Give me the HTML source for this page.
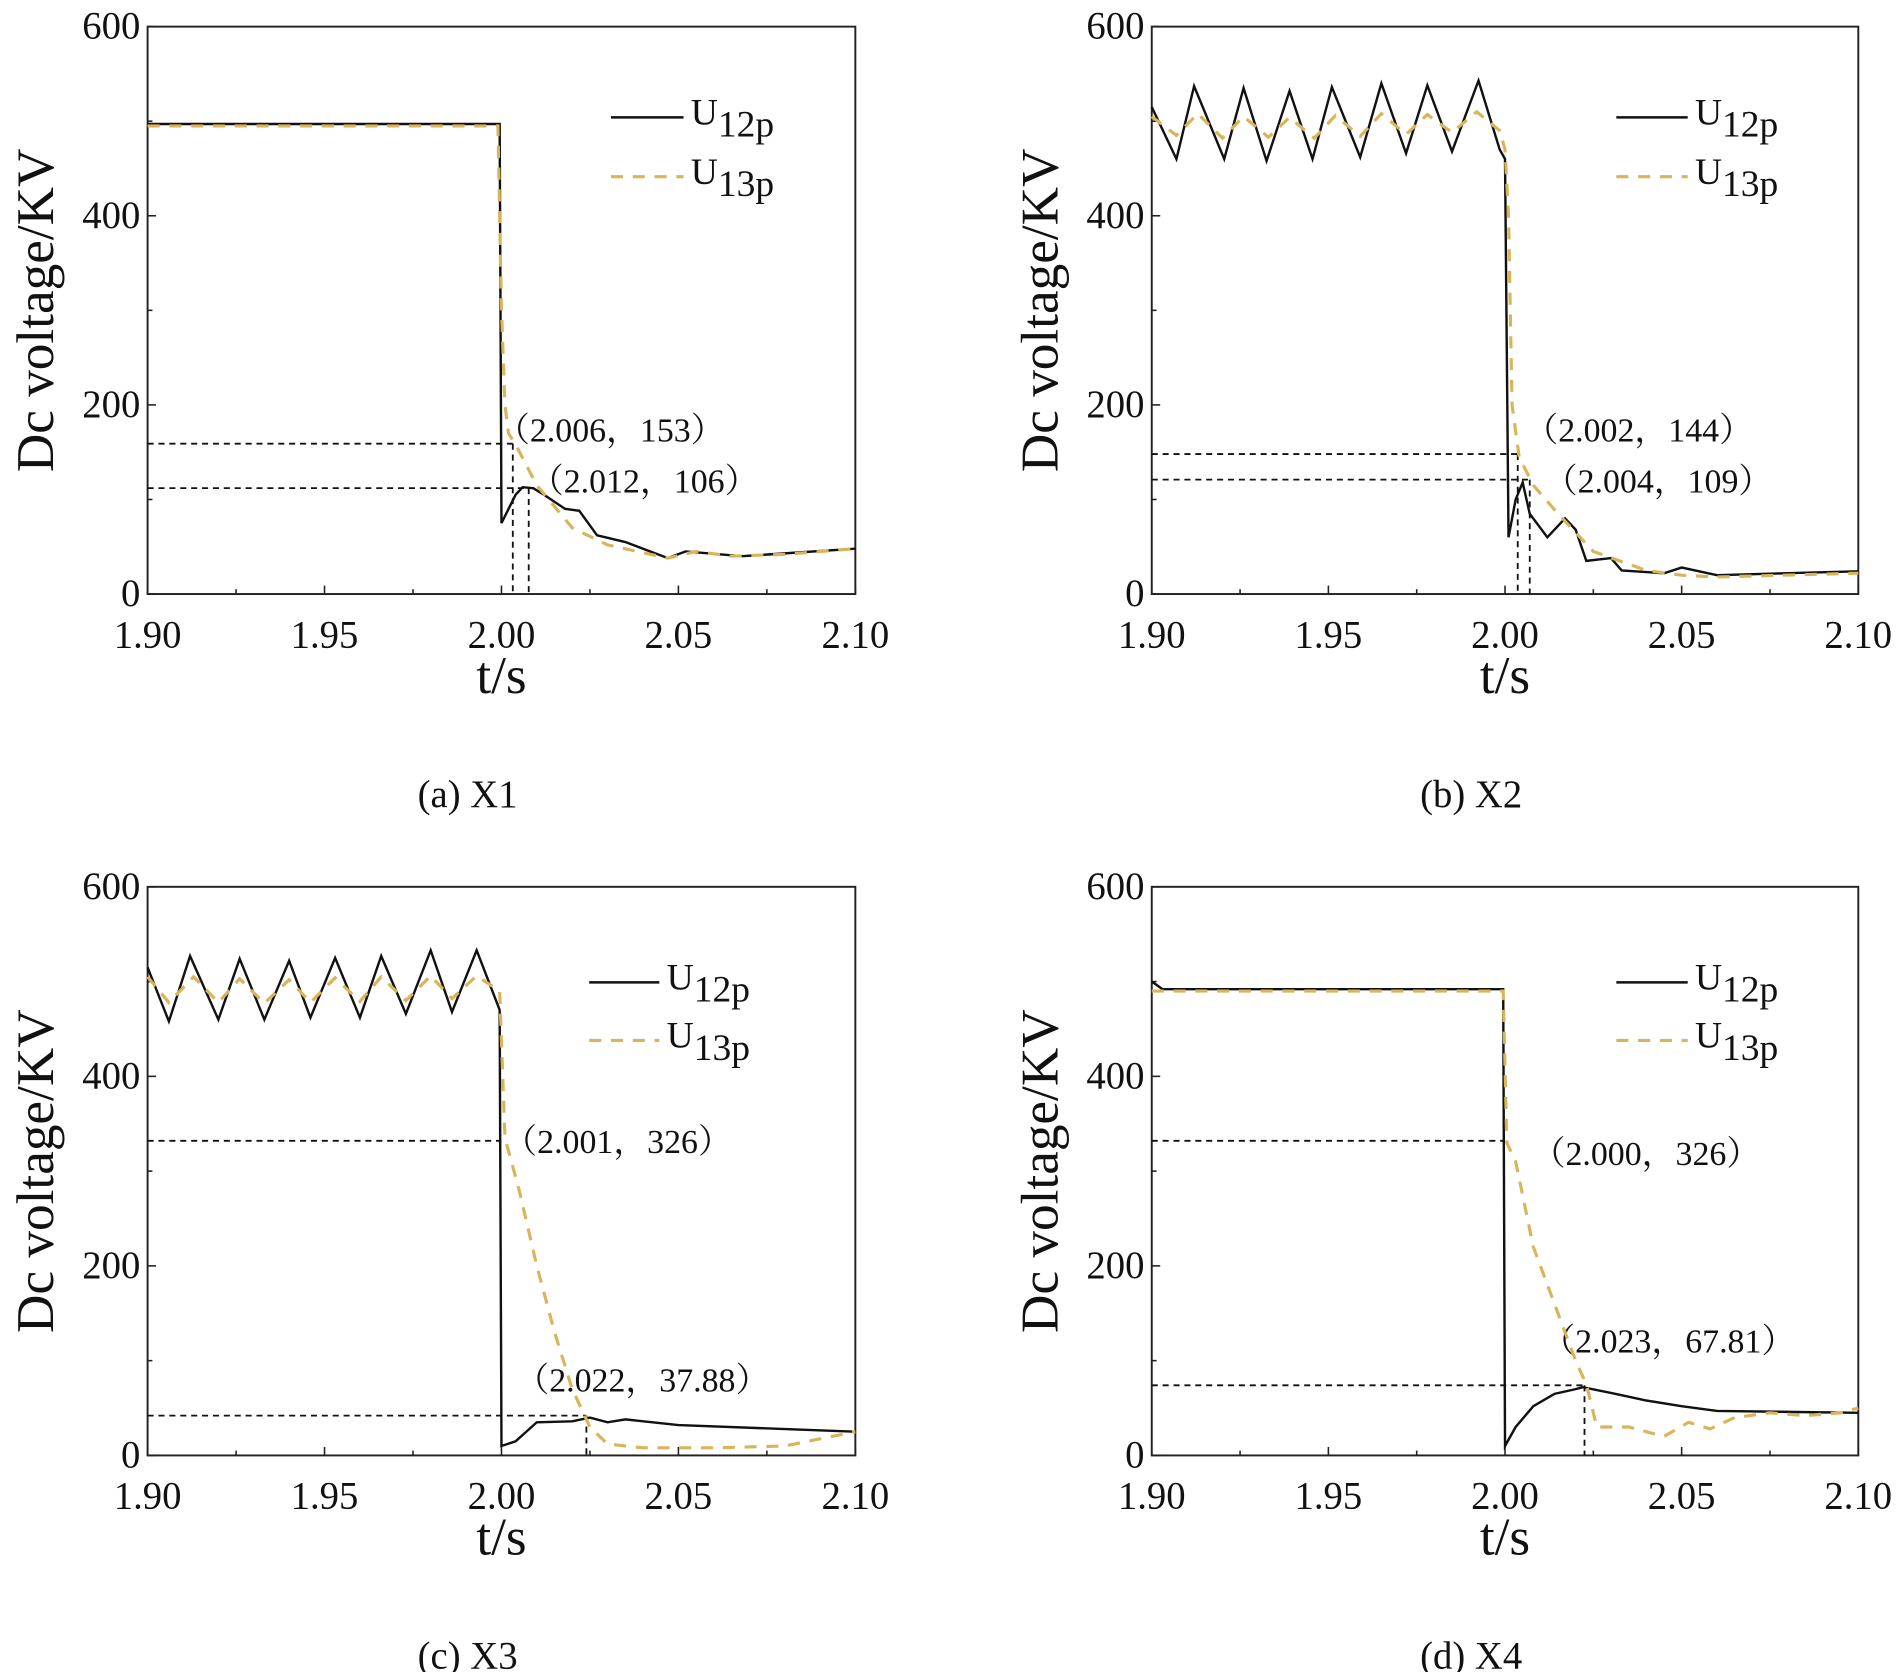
<!DOCTYPE html>
<html><head><meta charset="utf-8"><style>
html,body{margin:0;padding:0;background:#fff;}
svg{display:block;}
text{font-family:"Liberation Serif","Noto Serif CJK SC",serif;fill:#111;}
</style></head><body>
<svg id="fig" width="1897" height="1672" viewBox="0 0 1568 1382" xmlns="http://www.w3.org/2000/svg"></svg>
<script>
// ---- data ----
const xTicks = [1.90, 1.95, 2.00, 2.05, 2.10];
const xTickLabels = ["1.90", "1.95", "2.00", "2.05", "2.10"];
const yTicks = [0, 200, 400, 600];
const yTickLabels = ["0", "200", "400", "600"];
const captions = ["(a) X1", "(b) X2", "(c) X3", "(d) X4"];

const aT12 = [1.90,1.9995,2.0,2.004,2.006,2.009,2.012,2.018,2.022,2.027,2.035,2.047,2.052,2.068,2.08,2.10];
const aV12 = [497,497,75,105,113,112,105,90,88,62,55,38,45,40,43,48];
const aT13 = [1.90,1.999,2.000,2.001,2.002,2.004,2.01,2.02,2.03,2.047,2.055,2.065,2.08,2.10];
const aV13 = [495,495,300,200,170,158,115,70,52,38,45,40,42,48];

const bT12 = [1.90,1.907,1.912,1.9205,1.926,1.9325,1.939,1.9455,1.951,1.959,1.965,1.972,1.978,1.985,1.9925,1.9985,2.000,2.001,2.003,2.005,2.007,2.012,2.017,2.020,2.023,2.030,2.033,2.045,2.05,2.06,2.08,2.10];
const bV12 = [515,460,537,460,535,458,532,460,536,462,540,466,538,468,543,470,460,60,100,118,85,60,80,68,35,38,25,22,28,20,22,24];
const bT13 = [1.90,1.907,1.913,1.920,1.926,1.933,1.939,1.946,1.952,1.959,1.965,1.972,1.978,1.985,1.992,1.9985,2.000,2.001,2.002,2.004,2.008,2.015,2.025,2.04,2.05,2.06,2.10];
const bV13 = [505,485,508,482,505,483,504,482,506,484,508,486,507,488,510,490,470,400,200,145,115,85,45,25,20,18,22];

const cT12 = [1.90,1.906,1.912,1.920,1.926,1.933,1.940,1.946,1.953,1.960,1.966,1.973,1.980,1.986,1.993,1.9995,2.000,2.004,2.010,2.020,2.025,2.030,2.035,2.05,2.10];
const cV12 = [515,458,527,460,524,460,522,462,525,462,527,466,533,468,533,470,10,15,35,36,40,35,38,32,25];
const cT13 = [1.90,1.906,1.913,1.920,1.926,1.933,1.940,1.946,1.953,1.960,1.966,1.973,1.980,1.986,1.993,1.9995,2.001,2.005,2.01,2.015,2.02,2.025,2.03,2.04,2.06,2.08,2.10];
const cV13 = [505,478,505,478,503,477,502,478,504,479,505,480,506,482,506,490,335,280,200,130,70,30,12,8,8,10,25];

const dT12 = [1.90,1.903,1.9995,2.000,2.003,2.008,2.014,2.02,2.022,2.03,2.04,2.05,2.06,2.08,2.10];
const dV12 = [500,492,492,10,30,52,65,70,72,66,58,52,47,46,45];
const dT13 = [1.90,1.9995,2.0005,2.003,2.008,2.015,2.020,2.023,2.026,2.035,2.045,2.052,2.058,2.065,2.075,2.085,2.095,2.10];
const dV13 = [490,490,330,310,220,150,100,75,30,30,20,35,28,40,45,42,45,50];

// annotations: horizontal guide values / vertical guide times
const annY = [[159,112],[148,121],[332,42],[332,74]];
const annXH = [[2.0032,2.0077],[2.0036,2.007],[2.0,2.024],[2.0,2.0225]];
const annXV = [[2.0032,2.0077],[2.0036,2.007],[null,2.024],[null,2.0225]];
const annLabels = [["（2.006，153）","（2.012，106）"],["（2.002，144）","（2.004，109）"],["（2.001，326）","（2.022，37.88）"],["（2.000，326）","（2.023，67.81）"]];
const annPos = [[[410,355],[438,397]],[[1260,355],[1276,397]],[[416,943],[426,1140]],[[1266,953],[1274,1108]]];

const series = [[aT12,aV12,aT13,aV13],[bT12,bV12,bT13,bV13],[cT12,cV12,cT13,cV13],[dT12,dV12,dT13,dV13]];
const panels = [{L:122,R:707,T:22,B:491,leg:[505,565,97,146]},{L:952,R:1536,T:22,B:491,leg:[1336,1395,97,146]},
                {L:122,R:707,T:733,B:1203,leg:[487,545,812,860]},{L:952,R:1536,T:733,B:1203,leg:[1336,1395,812,860]}];

const NS="http://www.w3.org/2000/svg";
const svg=document.getElementById('fig');
function mk(tag,attrs,parent){const e=document.createElementNS(NS,tag);for(const k in attrs)e.setAttribute(k,attrs[k]);(parent||svg).appendChild(e);return e;}

panels.forEach((p,i)=>{
  const g=mk('g',{});
  
  
  const sx=t=>p.L+(t-1.90)/0.2*(p.R-p.L);
  const sy=v=>p.B-v/600*(p.B-p.T);
  const frame=mk('rect',{x:p.L,y:p.T,width:p.R-p.L,height:p.B-p.T,fill:'none',stroke:'#222','stroke-width':1.6},g);
  
  
  for(let k=0;k<=8;k++){const t=1.90+k*0.025;const x=sx(t);mk('line',{x1:x,x2:x,y1:p.B,y2:p.B-(k%2?4:7),stroke:'#222','stroke-width':1.3},g);}
  xTicks.forEach((t,k)=>{const tx=mk('text',{x:sx(t),y:p.B+44,'font-size':32,'text-anchor':'middle'},g);tx.textContent=xTickLabels[k];
    
    });
  for(let k=0;k<=6;k++){const y=sy(k*100);mk('line',{x1:p.L,x2:p.L+(k%2?4:7),y1:y,y2:y,stroke:'#222','stroke-width':1.3},g);}
  yTicks.forEach((v,k)=>{const tx=mk('text',{x:p.L-6,y:sy(v)+10,'font-size':32,'text-anchor':'end'},g);tx.textContent=yTickLabels[k];
    
    });
  const yt=mk('text',{x:0,y:0,'font-size':44,'text-anchor':'middle',transform:`translate(${p.L-78},${(p.T+p.B)/2}) rotate(-90)`},g);
  yt.textContent='Dc voltage/KV';
  
  
  const xt=mk('text',{x:(p.L+p.R)/2,y:p.B+82,'font-size':44,'text-anchor':'middle'},g);
  xt.textContent='t/s';
  
  
  const cap=mk('text',{x:(p.L+p.R)/2-28,y:p.B+176,'font-size':32,'text-anchor':'middle'},g);
  cap.textContent=captions[i];
  
  
  annY[i].forEach((v,k)=>{
    const hl=mk('line',{x1:p.L,x2:sx(annXH[i][k]),y1:sy(v),y2:sy(v),stroke:'#111','stroke-width':1.5,'stroke-dasharray':'5,4'},g);
    
    
    if(annXV[i][k]!==null){const vl=mk('line',{x1:sx(annXV[i][k]),x2:sx(annXV[i][k]),y1:sy(v),y2:p.B,stroke:'#111','stroke-width':1.5,'stroke-dasharray':'5,4'},g);
      
      }
    const at=mk('text',{x:annPos[i][k][0],y:annPos[i][k][1]+10,'font-size':28},g);
    at.textContent=annLabels[i][k];
    
    
  });
  const s=series[i];
  const pts=(T,V)=>T.map((t,k)=>sx(t).toFixed(1)+','+sy(V[k]).toFixed(1)).join(' ');
  const l12=mk('polyline',{points:pts(s[0],s[1]),fill:'none',stroke:'#111','stroke-width':2,'stroke-linejoin':'miter'},g);
  
  
  const l13=mk('polyline',{points:pts(s[2],s[3]),fill:'none',stroke:'#D9B45A','stroke-width':2.6,'stroke-dasharray':'10,8'},g);
  
  
  const [lx1,lx2,ly1,ly2]=p.leg;
  const le1=mk('line',{x1:lx1,x2:lx2,y1:ly1,y2:ly1,stroke:'#111','stroke-width':2},g);
  
  
  const le2=mk('line',{x1:lx1,x2:lx2,y1:ly2,y2:ly2,stroke:'#D9B45A','stroke-width':2.6,'stroke-dasharray':'10,8'},g);
  
  
  [['12p',ly1],['13p',ly2]].forEach(([sub,y])=>{
    const t=mk('text',{x:lx2+6,y:y+6,'font-size':31},g);
    
    
    t.appendChild(document.createTextNode('U'));
    const ts=mk('tspan',{dy:10},t);ts.textContent=sub;
  });
});
</script>
</body></html>
